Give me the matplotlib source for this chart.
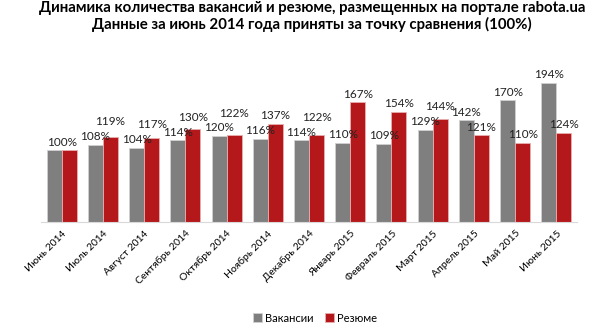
import matplotlib
matplotlib.use('Agg')
import matplotlib.pyplot as plt
import numpy as np

months = ['Июнь 2014', 'Июль 2014', 'Август 2014', 'Сентябрь 2014', 'Октябрь 2014',
          'Ноябрь 2014', 'Декабрь 2014', 'Январь 2015', 'Февраль 2015', 'Март 2015',
          'Апрель 2015', 'Май 2015', 'Июнь 2015']
vacancies = [100, 108, 104, 114, 120, 116, 114, 110, 109, 129, 142, 170, 194]
resumes = [100, 119, 117, 130, 122, 137, 122, 167, 154, 144, 121, 110, 124]

GRAY = '#7f7f7f'
RED = '#b4181a'
FONT = ['Lato', 'DejaVu Sans']
LABEL_SIZE = 8.5
YMAX = 200
AX_H = 143.2  # высота осей в пикселях

plt.rcParams['font.family'] = FONT

fig = plt.figure(figsize=(6, 3.3), dpi=100)
ax = fig.add_axes([41 / 600, 1 - 222 / 330, 536 / 600, AX_H / 330])

x = np.arange(len(months))
w = 0.364
ax.bar(x - w / 2, vacancies, w, color=GRAY, edgecolor='#d0d0d0', linewidth=0.6, label='Вакансии')
ax.bar(x + w / 2, resumes, w, color=RED, edgecolor='#e8b0b0', linewidth=0.6, label='Резюме')

# подписи значений: нижняя подпись у столбца, верхняя поднимается, чтобы не налезать
pt_per_unit = AX_H / YMAX * 72 / 100
base = 2.0
need = LABEL_SIZE * 1.22


def label(xpos, val, off):
    ax.annotate(f'{val}%', (xpos, val), xytext=(0, off), textcoords='offset points',
                ha='center', va='bottom', fontsize=LABEL_SIZE, color='#222222')


for i, (v, r) in enumerate(zip(vacancies, resumes)):
    if v == r:
        label(i, v, base)
        continue
    high_off = max(base, base + need - abs(r - v) * pt_per_unit)
    if r > v:
        label(i - w / 2, v, base)
        label(i + w / 2, r, high_off)
    else:
        label(i - w / 2, v, high_off)
        label(i + w / 2, r, base)

ax.set_xlim(-0.5, len(months) - 0.5)
ax.set_ylim(0, YMAX)
ax.set_yticks([])
ax.set_xticks(x)
ax.set_xticklabels(months, rotation=45, ha='right', rotation_mode='anchor', fontsize=7.5)
ax.tick_params(axis='x', length=0, pad=5)
for s in ['top', 'left', 'right']:
    ax.spines[s].set_visible(False)
ax.spines['bottom'].set_color('#d9d9d9')

fig.text(312 / 600, 1 - 8 / 330, 'Динамика количества вакансий и резюме, размещенных на портале rabota.ua',
         ha='center', va='center', fontsize=10.8, fontweight='bold')
fig.text(312 / 600, 1 - 24 / 330, 'Данные за июнь 2014 года приняты за точку сравнения (100%)',
         ha='center', va='center', fontsize=10.8, fontweight='bold')

fig.legend(loc='center', bbox_to_anchor=(315 / 600, 1 - 318 / 330), ncol=2, frameon=False,
           fontsize=8, handlelength=0.8, handleheight=0.8, handletextpad=0.3, columnspacing=1.0)

fig.savefig('out.png', dpi=100)
